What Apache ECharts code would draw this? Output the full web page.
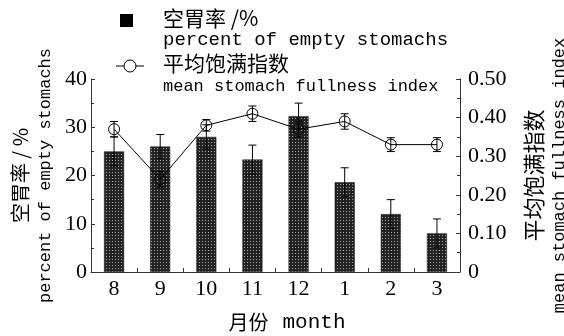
<!DOCTYPE html>
<html>
<head>
<meta charset="utf-8">
<script src="https://cdn.jsdelivr.net/npm/echarts@6/dist/echarts.min.js"></script>
<style>
  html, body { margin: 0; padding: 0; background: #fff; }
  #chart { width: 564px; height: 336px; }
</style>
</head>
<body>
<div id="chart"></div>
<script>
// Months sampled
const months = ['8', '9', '10', '11', '12', '1', '2', '3'];
// Percent of empty stomachs (%) and its error
const emptyRate = [25, 26, 28, 23.3, 32.3, 18.6, 12, 8];
const emptyRateErr = [3, 2.5, 2.5, 3, 2.7, 3, 3, 3];
// Mean stomach fullness index and its error
const fullness = [0.37, 0.24, 0.38, 0.41, 0.37, 0.39, 0.33, 0.33];
const fullnessErr = [0.02, 0.02, 0.015, 0.02, 0.02, 0.02, 0.018, 0.018];
// Axis ticks
const leftTicks = [0, 10, 20, 30, 40];
const rightTicks = [0, 0.1, 0.2, 0.3, 0.4, 0.5];

const SERIF = '"Liberation Serif", "DejaVu Serif", serif';
const MONO = '"Liberation Mono", "DejaVu Sans Mono", monospace';
const CJK = '"Noto Sans CJK SC", sans-serif';

// Dotted dark fill for the bars
function makePattern() {
  const c = document.createElement('canvas');
  c.width = 3; c.height = 3;
  const g = c.getContext('2d');
  g.fillStyle = '#222';
  g.fillRect(0, 0, 3, 3);
  g.fillStyle = '#a8a8a8';
  g.fillRect(1, 1, 1, 1);
  return c;
}

// Vertical error bar with caps at both ends
function errorBar(values, errs) {
  return function (params, api) {
    const i = params.dataIndex;
    const x = api.value(0);
    const hi = api.coord([x, values[i] + errs[i]]);
    const lo = api.coord([x, values[i] - errs[i]]);
    const half = 4;
    const style = { stroke: '#000', lineWidth: 1 };
    return {
      type: 'group',
      children: [
        { type: 'line', shape: { x1: hi[0], y1: hi[1], x2: lo[0], y2: lo[1] }, style },
        { type: 'line', shape: { x1: hi[0] - half, y1: hi[1], x2: hi[0] + half, y2: hi[1] }, style },
        { type: 'line', shape: { x1: lo[0] - half, y1: lo[1], x2: lo[0] + half, y2: lo[1] }, style }
      ]
    };
  };
}

const chart = echarts.init(document.getElementById('chart'), null, { renderer: 'canvas' });

const axisLine = { show: true, lineStyle: { color: '#333', width: 1 } };

chart.setOption({
  animation: false,
  backgroundColor: '#fff',
  grid: { left: 91, right: 104, top: 79, bottom: 64, outerBoundsMode: 'none', containLabel: false },
  xAxis: {
    type: 'category',
    data: months,
    axisLine: axisLine,
    axisTick: { show: true, inside: true, length: 4, alignWithLabel: false, lineStyle: { color: '#333' } },
    axisLabel: { fontFamily: SERIF, fontSize: 22, color: '#000', margin: 6 },
    name: '{pad|}{zh|月份}{sp| }{en|month}',
    nameLocation: 'middle',
    nameGap: 40,
    nameTextStyle: {
      rich: {
        pad: { width: 23 },
        zh: { fontFamily: CJK, fontSize: 20, color: '#000' },
        sp: { fontFamily: MONO, fontSize: 20, color: '#000', width: 14 },
        en: { fontFamily: MONO, fontSize: 21, color: '#000' }
      }
    }
  },
  yAxis: [
    {
      type: 'value',
      min: leftTicks[0],
      max: leftTicks[leftTicks.length - 1],
      interval: leftTicks[1] - leftTicks[0],
      position: 'left',
      axisLine: axisLine,
      axisTick: { show: true, inside: true, length: 4, lineStyle: { color: '#333' } },
      minorTick: { show: true, splitNumber: 2, length: 3, lineStyle: { color: '#333' } },
      splitLine: { show: false },
      axisLabel: { fontFamily: SERIF, fontSize: 22, color: '#000', margin: 4 },
      name: '{zh|空胃率 / %}\n{en|percent of empty stomachs}',
      nameLocation: 'middle',
      nameRotate: 90,
      nameGap: 35,
      nameTextStyle: {
        rich: {
          zh: { fontFamily: CJK, fontSize: 20, color: '#000', lineHeight: 28 },
          en: { fontFamily: MONO, fontSize: 17, color: '#000', lineHeight: 22 }
        }
      }
    },
    {
      type: 'value',
      min: rightTicks[0],
      max: rightTicks[rightTicks.length - 1],
      interval: 0.1,
      position: 'right',
      axisLine: axisLine,
      axisTick: { show: true, inside: true, length: 4, lineStyle: { color: '#333' } },
      minorTick: { show: true, splitNumber: 2, length: 3, lineStyle: { color: '#333' } },
      splitLine: { show: false },
      axisLabel: {
        fontFamily: SERIF, fontSize: 22, color: '#000', margin: 8,
        formatter: v => (v === 0 ? '0' : v.toFixed(2))
      },
      name: '{zh|平均饱满指数}\n{en|mean stomach fullness index}',
      nameLocation: 'middle',
      nameRotate: 90,
      nameGap: 60,
      nameTextStyle: {
        rich: {
          zh: { fontFamily: CJK, fontSize: 22, color: '#000', lineHeight: 28 },
          en: { fontFamily: MONO, fontSize: 17, color: '#000', lineHeight: 22 }
        }
      }
    }
  ],
  series: [
    {
      name: '空胃率 /%',
      type: 'bar',
      yAxisIndex: 0,
      data: emptyRate,
      barWidth: 20,
      itemStyle: { color: { image: makePattern(), repeat: 'repeat' }, borderColor: '#111', borderWidth: 0.5 },
      z: 2
    },
    {
      name: 'emptyRateErr',
      type: 'custom',
      yAxisIndex: 0,
      data: emptyRate.map((v, i) => [i, v]),
      renderItem: errorBar(emptyRate, emptyRateErr),
      z: 3
    },
    {
      name: '平均饱满指数',
      type: 'line',
      yAxisIndex: 1,
      data: fullness,
      symbol: 'circle',
      symbolSize: 11,
      lineStyle: { color: '#000', width: 1 },
      itemStyle: { color: 'rgba(0,0,0,0)', borderColor: '#000', borderWidth: 1 },
      z: 4
    },
    {
      name: 'fullnessErr',
      type: 'custom',
      yAxisIndex: 1,
      data: fullness.map((v, i) => [i, v]),
      renderItem: errorBar(fullness, fullnessErr),
      z: 5
    }
  ],
  graphic: [
    { type: 'rect', left: 120, top: 14, shape: { width: 13, height: 13 }, style: { fill: '#000' } },
    { type: 'text', left: 163, top: 8, style: { text: '空胃率 /%', font: '21px ' + CJK, fill: '#000' } },
    { type: 'text', left: 163, top: 30, style: { text: 'percent of empty stomachs', font: '19px ' + MONO, fill: '#000' } },
    { type: 'line', shape: { x1: 116, y1: 66, x2: 144, y2: 66 }, style: { stroke: '#000', lineWidth: 1 } },
    { type: 'circle', shape: { cx: 130, cy: 66, r: 6 }, style: { fill: '#fff', stroke: '#000', lineWidth: 1 } },
    { type: 'text', left: 163, top: 53, style: { text: '平均饱满指数', font: '21px ' + CJK, fill: '#000' } },
    { type: 'text', left: 163, top: 78, style: { text: 'mean stomach fullness index', font: '17px ' + MONO, fill: '#000' } }
  ]
});
</script>
</body>
</html>
